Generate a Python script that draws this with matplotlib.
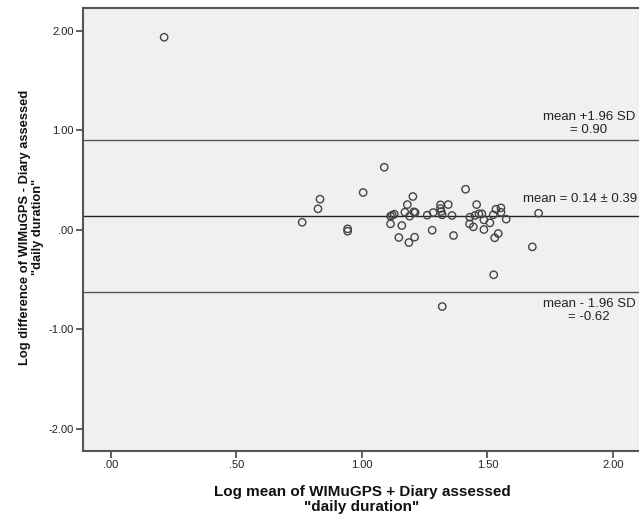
import numpy as np
import matplotlib
matplotlib.use('Agg')
from matplotlib import pyplot as plt
import matplotlib.ticker as mticker

plt.rcParams['font.family'] = ['Liberation Sans', 'DejaVu Sans']

# Bland-Altman data (log mean vs log difference)
log_mean = [0.212, 1.089, 1.005, 0.833, 0.825, 0.762, 0.943, 0.943,
            1.114, 1.121, 1.129, 1.114, 1.159, 1.147, 1.187, 1.210,
            1.181, 1.203, 1.171, 1.190, 1.207, 1.212, 1.260, 1.284,
            1.280, 1.313, 1.313, 1.316, 1.320, 1.344, 1.359, 1.365,
            1.413, 1.430, 1.429, 1.444, 1.457, 1.450, 1.466, 1.478,
            1.486, 1.486, 1.510, 1.523, 1.534, 1.554, 1.554, 1.575,
            1.543, 1.529, 1.525, 1.679, 1.704, 1.320]
log_diff = [1.936, 0.629, 0.375, 0.308, 0.211, 0.076, 0.010, -0.014,
            0.137, 0.147, 0.157, 0.060, 0.043, -0.077, -0.128, -0.074,
            0.254, 0.335, 0.177, 0.137, 0.181, 0.174, 0.147, 0.174,
            -0.004, 0.251, 0.214, 0.184, 0.151, 0.254, 0.144, -0.057,
            0.408, 0.127, 0.060, 0.030, 0.254, 0.144, 0.161, 0.161,
            0.100, 0.003, 0.070, 0.151, 0.207, 0.221, 0.177, 0.107,
            -0.037, -0.080, -0.452, -0.171, 0.167, -0.771]

mean_diff = 0.14
sd_text = 0.39
upper_loa = 0.90
lower_loa = -0.62

xticks = [0.0, 0.5, 1.0, 1.5, 2.0]
yticks = [-2.0, -1.0, 0.0, 1.0, 2.0]

xLabel = 'Log mean of WIMuGPS + Diary assessed\n"daily duration"'
yLabel = 'Log difference of WIMuGPS - Diary assessed\n"daily duration"'

DPI = 100
fig = plt.figure(figsize=(6.39, 5.16), dpi=DPI)
ax = fig.add_axes([0.1304, 0.1266, 0.8696, 0.8579])
ax.set_facecolor('#f0f0f0')

ax.scatter(log_mean, log_diff, s=28, facecolors='none', edgecolors='#444444',
           linewidths=1.0, zorder=3)

for yv, col in [(upper_loa, '#555555'), (mean_diff, '#222222'), (lower_loa, '#555555')]:
    ax.axhline(yv, color=col, lw=1.0, zorder=2)

ax.set_xlim(-0.11, 2.104)
ax.set_ylim(-2.22, 2.23)

def spss_fmt(v, pos):
    s = '{:.2f}'.format(v)
    if s.startswith('0'):
        s = s[1:]
    return s

ax.xaxis.set_major_locator(mticker.FixedLocator(xticks))
ax.yaxis.set_major_locator(mticker.FixedLocator(yticks))
ax.xaxis.set_major_formatter(mticker.FuncFormatter(spss_fmt))
ax.yaxis.set_major_formatter(mticker.FuncFormatter(spss_fmt))
ax.tick_params(direction='out', length=5, width=1.2, color='#444444',
               labelsize=8, labelcolor='#222222', pad=2)

for side in ['left', 'bottom', 'top']:
    ax.spines[side].set_color('#555555')
    ax.spines[side].set_linewidth(1.5)
ax.spines['right'].set_visible(False)

# axis titles placed in figure pixels
W, H = 639., 516.
fig.text(362 / W, 1 - 499.5 / H, xLabel, ha='center', va='center', fontsize=11,
         fontweight='bold', linespacing=1.12, color='#111111')
fig.text(31.5 / W, 1 - 227 / H, yLabel, ha='center', va='center', rotation=90,
         fontsize=9.3, fontweight='bold', linespacing=1.15, color='#111111')

fSize = 9.5
ax.text(1.905, upper_loa + 0.04, 'mean +1.96 SD\n= 0.90', ha='center', va='bottom',
        fontsize=fSize, color='#222222', linespacing=1.1, clip_on=False)
ax.text(1.641, mean_diff + 0.165, 'mean = {:.2f} \u00b1 {:.2f}'.format(mean_diff, sd_text),
        ha='left', va='center', fontsize=fSize, color='#222222', clip_on=False)
ax.text(1.905, lower_loa - 0.07, 'mean - 1.96 SD\n= -0.62', ha='center', va='top',
        fontsize=fSize, color='#222222', linespacing=1.1, clip_on=False)

plt.savefig('out.png', dpi=DPI)
